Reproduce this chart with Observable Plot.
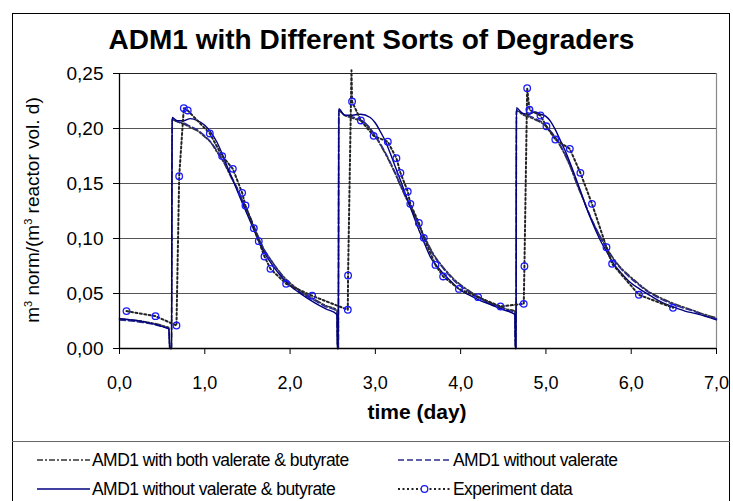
<!DOCTYPE html>
<html>
<head>
<meta charset="utf-8">
<script src="https://cdn.jsdelivr.net/npm/d3@7"></script>
<script src="https://cdn.jsdelivr.net/npm/@observablehq/plot@0.6"></script>
<style>
  html, body { margin: 0; padding: 0; background: #fff; }
  #wrap { position: relative; width: 733px; height: 501px; overflow: hidden; font-family: "Liberation Sans", Arial, sans-serif; }
  #frame { position: absolute; left: 12px; top: 13px; width: 718px; height: 520px; border: 1.5px solid #000; box-sizing: border-box; }
  #legline { position: absolute; left: 12px; top: 441px; width: 718px; height: 0; border-top: 1.5px solid #666; }
  #title { position: absolute; left: 0; width: 743px; top: 24px; text-align: center; font-weight: bold; font-size: 28px; color: #000; }
  #ytitle { position: absolute; left: 33px; top: 210px; transform: translate(-50%, -50%) rotate(-90deg); white-space: nowrap; font-size: 19px; }
  #xtitle { position: absolute; left: 417px; top: 400px; transform: translateX(-50%); font-weight: bold; font-size: 21px; white-space: nowrap; }
  #chart { position: absolute; left: 0; top: 0; }
  .leg { position: absolute; display: flex; align-items: center; font-size: 17.5px; letter-spacing: -0.55px; white-space: nowrap; }
  .leg svg { margin-right: 2px; }
</style>
</head>
<body>
<div id="wrap">
  <div id="frame"></div>
  <div id="legline"></div>
  <div id="title">ADM1 with Different Sorts of Degraders</div>
  <div id="ytitle">m<sup style="font-size:11px">3</sup> norm/(m<sup style="font-size:11px">3</sup> reactor vol. d)</div>
  <div id="xtitle">time (day)</div>
  <div id="chart"></div>
  <div id="legend"></div>
</div>
<script>
// ---- data ----
const seriesNames = [
  "AMD1 with both valerate & butyrate",
  "AMD1 without valerate",
  "AMD1 without valerate & butyrate",
  "Experiment data"
];
const xTicks = [0, 1, 2, 3, 4, 5, 6, 7];
const yTicks = [0, 0.05, 0.10, 0.15, 0.20, 0.25];

// AMD1 with both valerate & butyrate (dash-dot, dark gray)
const tBoth = [0, 0.578, 0.59, 0.61, 0.617, 0.68, 0.754, 0.83, 0.91, 0.99, 1.067, 1.14, 1.223, 1.30, 1.38, 1.46, 1.536, 1.61, 1.69, 1.77, 1.85, 1.94, 2.04, 2.16, 2.28, 2.42, 2.55,
  2.556, 2.566, 2.571, 2.64, 2.708, 2.79, 2.864, 2.92, 2.98, 3.06, 3.138, 3.22, 3.294, 3.37, 3.45, 3.53, 3.607, 3.68, 3.763, 3.86, 3.96, 4.07, 4.19, 4.31, 4.43, 4.53, 4.636,
  4.642, 4.65, 4.654, 4.74, 4.818, 4.90, 4.97, 5.05, 5.13, 5.21, 5.287, 5.36, 5.443, 5.52, 5.60, 5.68, 5.756, 5.85, 5.95, 6.07, 6.186, 6.32, 6.46, 6.60, 6.73, 6.86, 7.0];
const vBoth = [0.027, 0.019, 0, 0, 0.208, 0.206, 0.204, 0.201, 0.198, 0.193, 0.1876, 0.179, 0.169, 0.157, 0.145, 0.131, 0.118, 0.104, 0.0906, 0.081, 0.0724, 0.064, 0.057, 0.050, 0.045, 0.039, 0.035,
  0, 0, 0.216, 0.212, 0.210, 0.208, 0.2058, 0.201, 0.195, 0.185, 0.174, 0.161, 0.148, 0.135, 0.1224, 0.109, 0.0967, 0.086, 0.077, 0.068, 0.0603, 0.054, 0.048, 0.043, 0.039, 0.036, 0.034,
  0, 0, 0.216, 0.212, 0.210, 0.207, 0.204, 0.197, 0.189, 0.178, 0.165, 0.150, 0.1345, 0.120, 0.107, 0.096, 0.086, 0.076, 0.068, 0.060, 0.0527, 0.047, 0.042, 0.038, 0.0345, 0.031, 0.028];

// AMD1 without valerate (dashed, navy)
const tNoV = [0, 0.578, 0.59, 0.61, 0.617, 0.68, 0.754, 0.83, 0.91, 0.99, 1.067, 1.14, 1.223, 1.30, 1.38, 1.46, 1.536, 1.61, 1.69, 1.77, 1.85, 1.94, 2.04, 2.16, 2.28, 2.42, 2.55,
  2.556, 2.566, 2.571, 2.64, 2.708, 2.79, 2.864, 2.92, 2.98, 3.06, 3.138, 3.22, 3.294, 3.37, 3.45, 3.53, 3.607, 3.68, 3.763, 3.86, 3.96, 4.07, 4.19, 4.31, 4.43, 4.53, 4.636,
  4.642, 4.65, 4.654, 4.74, 4.818, 4.90, 4.97, 5.05, 5.13, 5.21, 5.287, 5.36, 5.443, 5.52, 5.60, 5.68, 5.756, 5.85, 5.95, 6.07, 6.186, 6.32, 6.46, 6.60, 6.73, 6.86, 7.0];
const vNoV = [0.026, 0.018, 0, 0, 0.209, 0.206, 0.205, 0.202, 0.199, 0.194, 0.188, 0.180, 0.170, 0.158, 0.146, 0.132, 0.119, 0.105, 0.091, 0.081, 0.072, 0.063, 0.056, 0.049, 0.044, 0.038, 0.034,
  0, 0, 0.217, 0.212, 0.211, 0.209, 0.206, 0.202, 0.196, 0.186, 0.175, 0.162, 0.149, 0.136, 0.123, 0.109, 0.096, 0.085, 0.076, 0.067, 0.059, 0.053, 0.047, 0.042, 0.038, 0.035, 0.033,
  0, 0, 0.217, 0.213, 0.211, 0.208, 0.205, 0.198, 0.190, 0.179, 0.166, 0.151, 0.135, 0.120, 0.107, 0.095, 0.085, 0.075, 0.067, 0.059, 0.052, 0.046, 0.041, 0.037, 0.034, 0.030, 0.027];

// AMD1 without valerate & butyrate (solid, navy)
const tNoVB = [0, 0.578, 0.59, 0.61, 0.617, 0.68, 0.75, 0.83, 0.92, 1.00, 1.067, 1.14, 1.204, 1.27, 1.34, 1.42, 1.497, 1.575, 1.653, 1.73, 1.81, 1.90, 2.0, 2.14, 2.28, 2.42, 2.55,
  2.556, 2.566, 2.571, 2.64, 2.708, 2.825, 2.94, 3.00, 3.06, 3.12, 3.177, 3.235, 3.294, 3.35, 3.41, 3.47, 3.53, 3.59, 3.646, 3.72, 3.80, 3.90, 4.0, 4.115, 4.23, 4.35, 4.467, 4.636,
  4.642, 4.65, 4.654, 4.72, 4.80, 4.87, 4.936, 5.0, 5.05, 5.11, 5.17, 5.23, 5.287, 5.35, 5.404, 5.46, 5.52, 5.58, 5.64, 5.72, 5.795, 5.89, 5.99, 6.10, 6.225, 6.36, 6.50, 6.63, 6.77, 6.88, 7.0];
const vNoVB = [0.027, 0.018, 0, 0, 0.210, 0.207, 0.207, 0.209, 0.207, 0.203, 0.197, 0.188, 0.177, 0.164, 0.151, 0.136, 0.122, 0.108, 0.094, 0.083, 0.074, 0.065, 0.057, 0.049, 0.042, 0.036, 0.031,
  0, 0, 0.218, 0.212, 0.212, 0.213, 0.210, 0.205, 0.197, 0.188, 0.177, 0.165, 0.153, 0.141, 0.1285, 0.116, 0.104, 0.093, 0.083, 0.075, 0.068, 0.060, 0.053, 0.048, 0.0436, 0.040, 0.036, 0.031,
  0, 0, 0.219, 0.214, 0.213, 0.215, 0.213, 0.211, 0.207, 0.199, 0.189, 0.179, 0.168, 0.155, 0.1436, 0.131, 0.119, 0.108, 0.098, 0.087, 0.077, 0.068, 0.060, 0.054, 0.048, 0.042, 0.0376, 0.034, 0.0315, 0.029, 0.026];

// Experiment data (dotted line with circles)
const tExp = [0.082, 0.422, 0.668, 0.70, 0.754, 0.80, 1.059, 1.204, 1.329, 1.438, 1.477, 1.575, 1.633, 1.70, 1.77, 1.954, 2.259,
  2.677, 2.68, 2.72, 2.727, 2.83, 2.98, 3.146, 3.247, 3.294, 3.38, 3.41, 3.51, 3.568, 3.705, 3.795, 3.98, 4.205, 4.467,
  4.74, 4.748, 4.78, 4.807, 4.936, 5.006, 5.11, 5.28, 5.404, 5.54, 5.71, 5.776, 6.09, 6.49];
const vExp = [0.034, 0.0294, 0.0209, 0.1567, 0.2185, 0.2164, 0.1955, 0.1749, 0.1633, 0.1415, 0.130, 0.1094, 0.0976, 0.0836, 0.0724, 0.0588, 0.0479,
  0.0352, 0.0664, 0.253, 0.2245, 0.2073, 0.1933, 0.188, 0.173, 0.1597, 0.1427, 0.1315, 0.1142, 0.1006, 0.076, 0.0655, 0.0542, 0.0467, 0.0382,
  0.0406, 0.0748, 0.2367, 0.217, 0.2118, 0.202, 0.19, 0.1815, 0.1597, 0.1315, 0.0921, 0.077, 0.0488, 0.037];

// ---- build tables ----
const rows = (ts, vs) => ts.map((t, i) => ({t, v: vs[i]}));
const both = rows(tBoth, vBoth);
const noV = rows(tNoV, vNoV);
const noVB = rows(tNoVB, vNoVB);
const exp = rows(tExp, vExp);

const comma = (digits) => (d) => d.toFixed(digits).replace(".", ",");

const plot = Plot.plot({
  width: 733,
  height: 440,
  marginLeft: 119,
  marginRight: 17,
  marginTop: 73,
  marginBottom: 92,
  style: { fontFamily: "'Liberation Sans', Arial, sans-serif", background: "transparent", color: "#000" },
  x: { domain: [0, 7] },
  y: { domain: [0, 0.25] },
  marks: [
    Plot.ruleY(yTicks.filter(d => d > 0 && d < 0.25), { stroke: "#555", strokeWidth: 1.2 }),
    Plot.ruleY([0.25], { stroke: "#222", strokeWidth: 1.2 }),
    Plot.ruleX([7], { stroke: "#888", strokeWidth: 1.2 }),
    Plot.line(both, { x: "t", y: "v", stroke: "#333333", strokeWidth: 1.6, strokeDasharray: "6,2,2,2", curve: "monotone-x" }),
    Plot.line(noV, { x: "t", y: "v", stroke: "#2b2b8f", strokeWidth: 1.5, strokeDasharray: "6,3", curve: "monotone-x" }),
    Plot.line(noVB, { x: "t", y: "v", stroke: "#000080", strokeWidth: 1.4, curve: "monotone-x" }),
    Plot.line(exp, { x: "t", y: "v", stroke: "#222", strokeWidth: 2, strokeDasharray: "2,2.5" }),
    Plot.dot(exp.filter(d => d.v <= 0.25), { x: "t", y: "v", r: 3.3, stroke: "#1a1aff", strokeWidth: 1.3, fill: "none" }),
    Plot.axisY({ ticks: yTicks, tickFormat: comma(2), tickSize: 6, tickPadding: 10, fontSize: 19, label: null, stroke: "#000" }),
    Plot.axisX({ ticks: xTicks, tickFormat: comma(1), tickSize: 6, tickPadding: 22, fontSize: 18, label: null, stroke: "#000" }),
    Plot.ruleX([0], { stroke: "#000", strokeWidth: 1.3 }),
    Plot.ruleY([0], { stroke: "#000", strokeWidth: 1.3 })
  ]
});
document.getElementById("chart").appendChild(plot);

// ---- legend ----
const legendItems = [
  { name: seriesNames[0], stroke: "#333", dash: "6,2,2,2", width: 1.6, x: 37, y: 460 },
  { name: seriesNames[1], stroke: "#2b2b8f", dash: "6,3", width: 1.6, x: 398, y: 460 },
  { name: seriesNames[2], stroke: "#000080", dash: null, width: 1.4, x: 37, y: 489 },
  { name: seriesNames[3], stroke: "#222", dash: "2,2.5", width: 2, x: 398, y: 489, dot: true }
];
const leg = document.getElementById("legend");
for (const it of legendItems) {
  const div = document.createElement("div");
  div.className = "leg";
  div.style.left = it.x + "px";
  div.style.top = (it.y - 10) + "px";
  div.style.height = "20px";
  const ns = "http://www.w3.org/2000/svg";
  const svg = document.createElementNS(ns, "svg");
  svg.setAttribute("width", 53); svg.setAttribute("height", 12);
  const ln = document.createElementNS(ns, "line");
  ln.setAttribute("x1", 0); ln.setAttribute("x2", 53); ln.setAttribute("y1", 6); ln.setAttribute("y2", 6);
  ln.setAttribute("stroke", it.stroke); ln.setAttribute("stroke-width", it.width);
  if (it.dash) ln.setAttribute("stroke-dasharray", it.dash);
  svg.appendChild(ln);
  if (it.dot) {
    const c = document.createElementNS(ns, "circle");
    c.setAttribute("cx", 26.5); c.setAttribute("cy", 6); c.setAttribute("r", 3.3);
    c.setAttribute("fill", "#fff"); c.setAttribute("stroke", "#1a1aff"); c.setAttribute("stroke-width", 1.3);
    svg.appendChild(c);
  }
  div.appendChild(svg);
  const span = document.createElement("span");
  span.textContent = it.name;
  div.appendChild(span);
  leg.appendChild(div);
}
</script>
</body>
</html>
